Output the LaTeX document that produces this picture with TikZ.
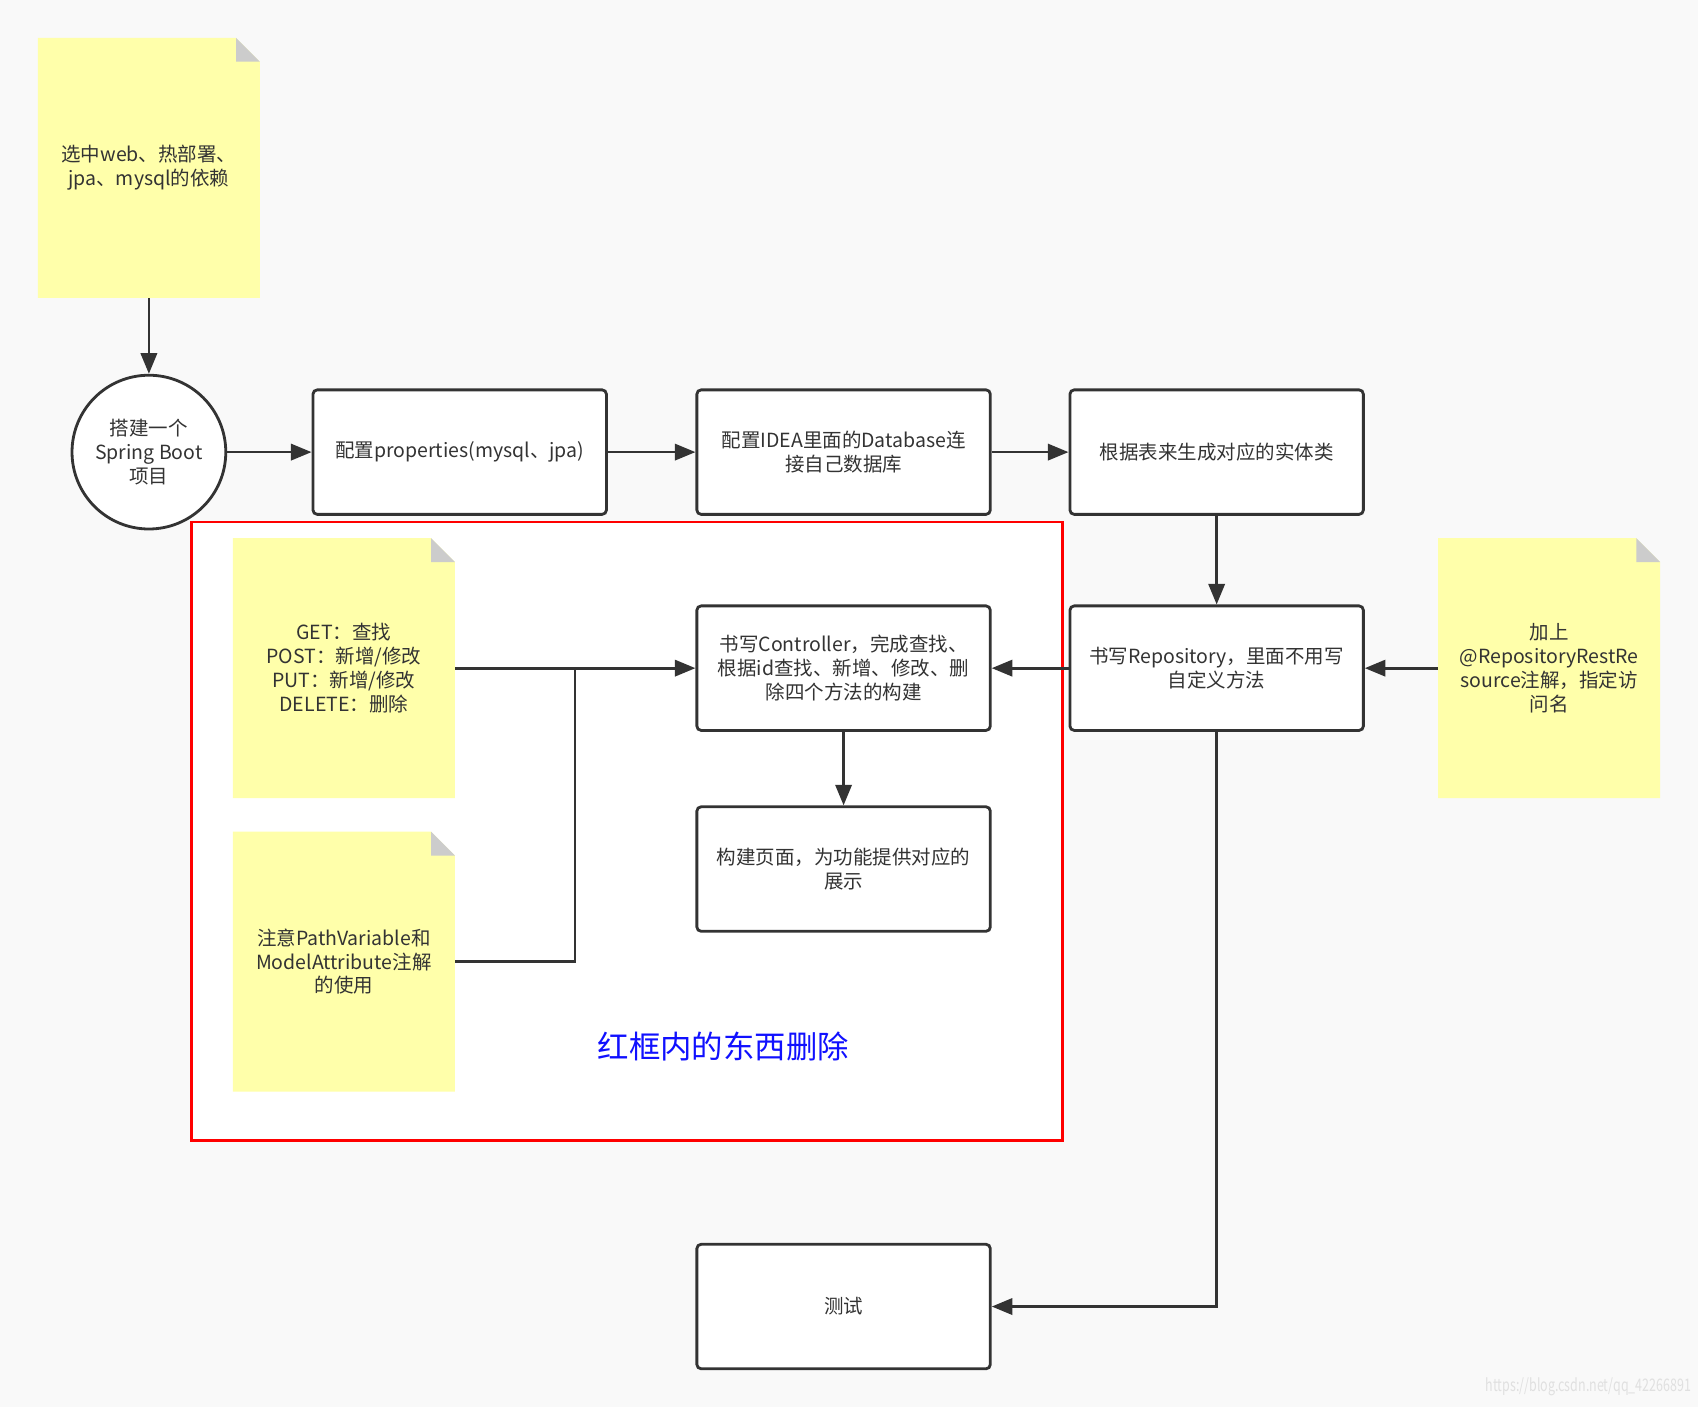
\documentclass[tikz,border=0pt]{standalone}
\usepackage{fontspec}
\setmainfont{Noto Sans CJK SC}
\usetikzlibrary{arrows.meta}
\definecolor{bg}{HTML}{F9F9F9}
\definecolor{ink}{HTML}{333333}
\definecolor{notey}{HTML}{FFFFAA}
\definecolor{foldc}{HTML}{CCCCCC}
\definecolor{frame}{HTML}{FF0000}
\definecolor{warnc}{HTML}{1010FF}
\newcommand\mynote[4]{%
  \fill[notey] (#2-102.5,#3-120) -- (#2+80.5,#3-120) -- (#2+102.5,#3-98) -- (#2+102.5,#3+120) -- (#2-102.5,#3+120) -- cycle;
  \fill[foldc] (#2+80.5,#3-120) -- (#2+80.5,#3-98) -- (#2+102.5,#3-98) -- cycle;
  \node[notetext] (#1) at (#2,#3) {#4};}
\begin{document}
\begin{tikzpicture}[x=0.5pt,y=-0.5pt,
  txt/.style={text=ink, align=center, font=\fontsize{9}{11}\selectfont},
  box/.style={txt, draw=ink, line width=1.3pt, fill=white, rounded corners=2pt,
    minimum width=135.5pt, minimum height=57.5pt, inner sep=1pt},
  notetext/.style={txt, minimum width=102.5pt, minimum height=120pt, inner sep=0pt},
  circ/.style={txt, circle, draw=ink, line width=1.3pt, fill=white, minimum size=71pt, inner sep=0pt},
  conn/.style={draw=ink, line width=1.25pt, -{Triangle[length=9.5pt,width=7.5pt]}},
  plain/.style={draw=ink, line width=1.25pt}]
\fill[bg] (0,0) rectangle (1568,1299);
\useasboundingbox (0,0) rectangle (1568,1299);
\draw[frame, line width=1.3pt, fill=white] (177,482) rectangle (981,1053);

\mynote{n1}{137.5}{155}{选中web、热部署、\\jpa、mysql的依赖}
\mynote{nR}{1430.5}{617}{加上\\@RepositoryRestRe\\source注解，指定访\\问名}
\mynote{nG}{317.5}{617}{GET：查找\\POST：新增/修改\\PUT：新增/修改\\DELETE：删除}
\mynote{nP}{317.5}{888}{注意PathVariable和\\ModelAttribute注解\\的使用}

\node[circ] (c) at (137.5,417.5) {搭建一个\\Spring Boot\\项目};
\node[box] (b1) at (424.5,417.5) {配置properties(mysql、jpa)};
\node[box] (b2) at (779,417.5) {配置IDEA里面的Database连\\接自己数据库};
\node[box] (b3) at (1123.5,417.5) {根据表来生成对应的实体类};
\node[box] (b4) at (1123.5,617) {书写Repository，里面不用写\\自定义方法};
\node[box] (b5) at (779,617) {书写Controller，完成查找、\\根据id查找、新增、修改、删\\除四个方法的构建};
\node[box] (b6) at (779,802.5) {构建页面，为功能提供对应的\\展示};
\node[box] (bT) at (779,1206.5) {测试};

\node[text=warnc, font=\fontsize{14.5}{16}\selectfont] (warn) at (668,966) {红框内的东西删除};
\node[anchor=east, text=black!12, font=\fontsize{8}{9}\selectfont, inner sep=0pt] (wm) at (1562,1281) {\scalebox{0.72}[1]{https://blog.csdn.net/qq\_42266891}};

\coordinate (j) at (531,617);
\draw[conn] (n1.south) -- (c.north);
\draw[conn] (c) -- (b1);
\draw[conn] (b1) -- (b2);
\draw[conn] (b2) -- (b3);
\draw[conn] (b3) -- (b4);
\draw[conn] (nR) -- (b4);
\draw[conn] (b4) -- (b5);
\draw[conn] (nG) -- (b5);
\draw[plain] (nP.east) -| (j);
\draw[conn] (b5) -- (b6);
\draw[conn] (b4.south) |- (bT.east);
\end{tikzpicture}
\end{document}
